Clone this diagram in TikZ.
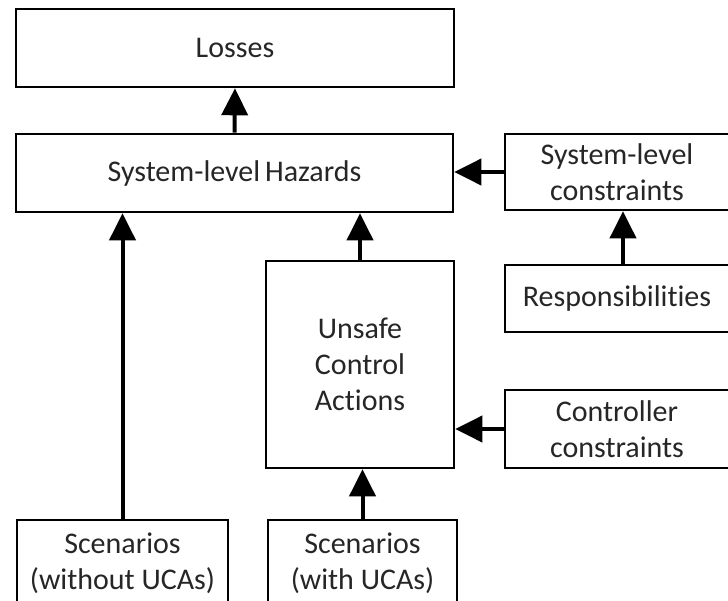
\documentclass[tikz,border=0pt]{standalone}
\usepackage{fontspec}
\setmainfont{Carlito}[Ligatures={NoCommon}]
\usetikzlibrary{arrows.meta}
\begin{document}
\begin{tikzpicture}[x=1pt,y=-1pt,
  box/.style={draw=black, line width=2.6pt, fill=white, inner sep=0pt, align=center,
    text=black!85, font=\fontsize{30}{36}\selectfont},
  arr/.style={line width=4pt, -{Triangle[length=27pt,width=26pt]}}]
\useasboundingbox[fill=white] (0,0) rectangle (728,600);
\node[box, minimum width=438pt, minimum height=78pt] (losses) at (235,48) {Losses};
\node[box, minimum width=437pt, minimum height=78pt] (haz) at (234.5,173) {System-level\hspace{-2pt} Hazards};
\node[box, minimum width=224pt, minimum height=76pt] (slc) at (617,172) {System-level\\constraints};
\node[box, minimum width=224pt, minimum height=67pt] (resp) at (617,298.5) {Responsibilities};
\node[box, minimum width=188pt, minimum height=207pt] (uca) at (360,364.5) {Unsafe\\Control\\Actions};
\node[box, minimum width=224pt, minimum height=78pt] (cc) at (617,429) {Controller\\constraints};
\node[box, minimum width=211pt, minimum height=86pt] (scw) at (122.5,563) {Scenarios\\(without UCAs)};
\node[box, minimum width=189pt, minimum height=86pt] (scu) at (362.5,563) {Scenarios\\(with UCAs)};
\draw[arr] (haz.north) -- (losses.south);
\draw[arr] (scw.north) -- (scw.north |- haz.south);
\draw[arr] (uca.north) -- (uca.north |- haz.south);
\draw[arr] (scu.north) -- (scu.north |- uca.south);
\draw[arr] (slc.west) -- (slc.west -| haz.east);
\draw[arr] (cc.west) -- (cc.west -| uca.east);
\draw[arr] ([xshift=6pt]resp.north) -- ([xshift=6pt]resp.north |- slc.south);
\end{tikzpicture}
\end{document}
